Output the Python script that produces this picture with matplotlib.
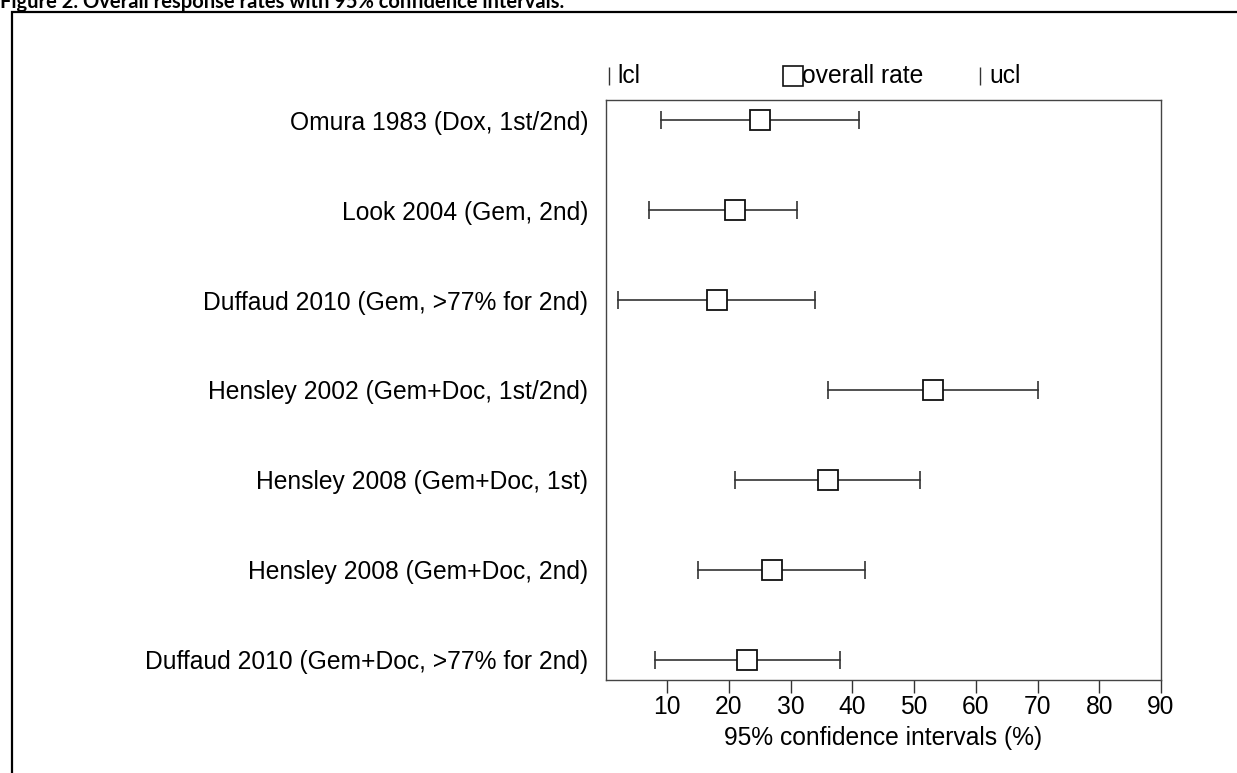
import matplotlib
matplotlib.use("Agg")
import matplotlib.pyplot as plt
from matplotlib.patches import Rectangle

studies = [
    "Omura 1983 (Dox, 1st/2nd)",
    "Look 2004 (Gem, 2nd)",
    "Duffaud 2010 (Gem, >77% for 2nd)",
    "Hensley 2002 (Gem+Doc, 1st/2nd)",
    "Hensley 2008 (Gem+Doc, 1st)",
    "Hensley 2008 (Gem+Doc, 2nd)",
    "Duffaud 2010 (Gem+Doc, >77% for 2nd)",
]
overall_rate = [25, 21, 18, 53, 36, 27, 23]
lcl = [9, 7, 2, 36, 21, 15, 8]
ucl = [41, 31, 34, 70, 51, 42, 38]
xticks = [10, 20, 30, 40, 50, 60, 70, 80, 90]

plt.rcParams['font.family'] = ['Liberation Sans', 'DejaVu Sans']
FS = 17.7

W, H = 1237, 773
fig = plt.figure(figsize=(W / 100, H / 100), dpi=100)

# outer frame (partly off the page)
fig.patches.append(Rectangle((12 / W, -0.1), 1.2, 1.1 - 12 / H, transform=fig.transFigure,
                             fill=False, edgecolor='black', linewidth=1.6))
fig.text(0.0, 1 - 8 / H, "Figure 2. Overall response rates with 95% confidence intervals.",
         fontsize=14.5, fontweight='bold', family=['Lato', 'DejaVu Sans'], va='baseline', ha='left')

left, right, top, bottom = 605.5, 1161, 100, 680
ax = fig.add_axes([left / W, 1 - bottom / H, (right - left) / W, (bottom - top) / H])

ys = list(range(1, len(studies) + 1))
for y, lo, hi in zip(ys, lcl, ucl):
    ax.plot([lo, hi], [y, y], color='#333333', lw=1.2)
ax.plot(lcl, ys, ls='none', marker='|', ms=12.5, mew=1.2, color='#333333')
ax.plot(ucl, ys, ls='none', marker='|', ms=12.5, mew=1.2, color='#333333')
ax.plot(overall_rate, ys, ls='none', marker='s', ms=14.5, mfc='white', mec='#111111', mew=1.3)

ax.set_xlim(0, 90)
ax.set_ylim(len(studies) + 0.223, 1 - 0.223)
ax.set_xticks(xticks)
ax.set_xticklabels([str(t) for t in xticks], fontsize=FS)
ax.set_yticks(ys)
ax.set_yticklabels(studies, fontsize=FS)
ax.tick_params(axis='y', length=0, pad=12.5)
ax.tick_params(axis='x', direction='out', length=9, width=1, color='#333333', pad=2)
ax.set_xlabel("95% confidence intervals (%)", fontsize=FS, labelpad=5)
for s in ax.spines.values():
    s.set_color('#444444')
    s.set_linewidth(1.0)

# legend row above the axes
ty = 1 + 24 / (bottom - top)
ax.plot([(609 - left) / (right - left)], [ty], transform=ax.transAxes, clip_on=False,
        marker='|', ms=13, mew=1, color='#333333', ls='none')
ax.text((617 - left) / (right - left), ty, "lcl", transform=ax.transAxes, fontsize=FS, va='center')
ax.plot([(793 - left) / (right - left)], [ty], transform=ax.transAxes, clip_on=False,
        marker='s', ms=14.5, mfc='white', mec='#111111', mew=1.2, ls='none')
ax.text((802 - left) / (right - left), ty, "overall rate", transform=ax.transAxes, fontsize=FS, va='center')
ax.plot([(980 - left) / (right - left)], [ty], transform=ax.transAxes, clip_on=False,
        marker='|', ms=13, mew=1, color='#333333', ls='none')
ax.text((989 - left) / (right - left), ty, "ucl", transform=ax.transAxes, fontsize=FS, va='center')

fig.savefig("out.png", dpi=100)
